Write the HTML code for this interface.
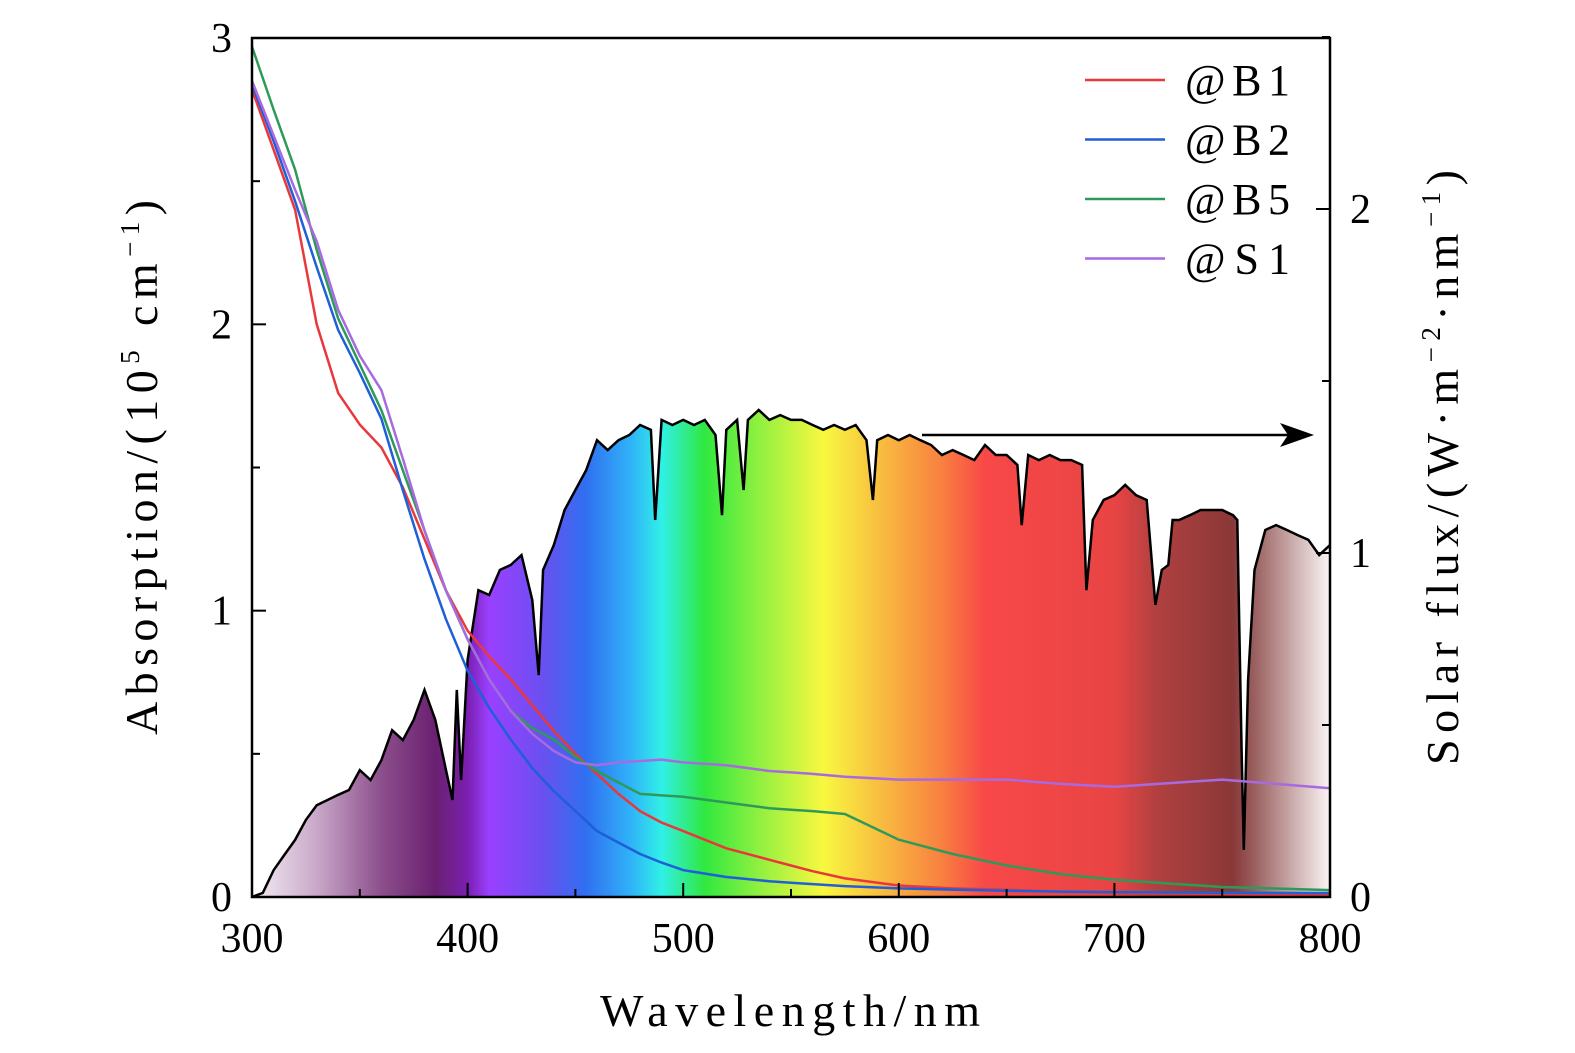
<!DOCTYPE html>
<html><head><meta charset="utf-8"><style>
html,body{margin:0;padding:0;background:#fff}
svg{display:block;font-family:"Liberation Serif",serif}
</style></head><body>
<svg id="chart" width="1575" height="1053" viewBox="0 0 1575 1053" xmlns="http://www.w3.org/2000/svg">
<defs>
<linearGradient id="spec" x1="252" x2="1330" y1="0" y2="0" gradientUnits="userSpaceOnUse">
<stop offset="0" stop-color="#f4eef4"/>
<stop offset="0.06" stop-color="#c9a8c9"/>
<stop offset="0.12" stop-color="#8c4f8c"/>
<stop offset="0.17" stop-color="#6a2070"/>
<stop offset="0.2" stop-color="#7a1fb0"/>
<stop offset="0.22" stop-color="#9a40ff"/>
<stop offset="0.27" stop-color="#6a50f0"/>
<stop offset="0.31" stop-color="#3070f0"/>
<stop offset="0.35" stop-color="#30b0f8"/>
<stop offset="0.38" stop-color="#30f0e8"/>
<stop offset="0.42" stop-color="#30e840"/>
<stop offset="0.47" stop-color="#90f040"/>
<stop offset="0.53" stop-color="#f8f840"/>
<stop offset="0.58" stop-color="#f8c040"/>
<stop offset="0.64" stop-color="#f88040"/>
<stop offset="0.68" stop-color="#f84848"/>
<stop offset="0.8" stop-color="#e84444"/>
<stop offset="0.84" stop-color="#b04040"/>
<stop offset="0.91" stop-color="#8a3838"/>
<stop offset="0.93" stop-color="#9a6060"/>
<stop offset="1" stop-color="#fbf5f5"/>
</linearGradient>
<clipPath id="plotclip"><rect x="252" y="38" width="1078" height="859"/></clipPath>
</defs>
<g id="plot" clip-path="url(#plotclip)"></g>
<g id="axes"></g>
<line x1="922" y1="435" x2="1290" y2="435" stroke="#000" stroke-width="2.5"/>
<polygon points="1314,435 1280,423 1288,435 1280,447" fill="#000"/>
<g id="legend"></g>
<text x="600" y="1026" font-size="46" textLength="380" lengthAdjust="spacing">Wavelength/nm</text>
<text transform="translate(157,735) rotate(-90)" font-size="46" textLength="535" lengthAdjust="spacing">Absorption/(10<tspan font-size="27" dy="-18">5</tspan><tspan dy="18"> cm</tspan><tspan font-size="27" dy="-18">−1</tspan><tspan dy="18">)</tspan></text>
<text transform="translate(1458,765) rotate(-90)" font-size="46" textLength="595" lengthAdjust="spacing">Solar flux/(W·m<tspan font-size="27" dy="-18">−2</tspan><tspan dy="18">·nm</tspan><tspan font-size="27" dy="-18">−1</tspan><tspan dy="18">)</tspan></text>
</svg>
<script>
const fluxWl=[300,305,310,315,320,325,330,335,340,345,350,355,360,365,370,375,380,385,390,393,395,397,400,405,410,415,420,425,430,433,435,440,445,450,455,460,465,470,475,480,485,487,490,495,500,505,510,515,518,520,525,528,530,535,540,545,550,555,560,565,570,575,580,585,588,590,595,600,605,610,615,620,625,630,635,640,645,650,655,657,660,665,670,675,680,685,687,690,695,700,705,710,715,719,722,725,727,730,735,740,745,750,755,757,759,760,762,765,770,775,780,785,790,795,800];
const fluxVal=[0,0.012,0.078,0.122,0.166,0.224,0.267,0.282,0.297,0.311,0.369,0.340,0.398,0.485,0.456,0.515,0.602,0.515,0.369,0.282,0.602,0.340,0.689,0.892,0.878,0.951,0.965,0.994,0.863,0.645,0.951,1.023,1.125,1.183,1.241,1.328,1.299,1.328,1.343,1.372,1.358,1.096,1.387,1.372,1.387,1.372,1.387,1.343,1.110,1.358,1.387,1.183,1.387,1.416,1.387,1.401,1.387,1.387,1.372,1.358,1.372,1.358,1.372,1.328,1.154,1.328,1.343,1.328,1.343,1.328,1.314,1.285,1.299,1.285,1.270,1.314,1.285,1.285,1.256,1.081,1.285,1.270,1.285,1.270,1.270,1.256,0.892,1.096,1.154,1.168,1.198,1.168,1.154,0.849,0.951,0.965,1.096,1.096,1.110,1.125,1.125,1.125,1.110,1.096,0.427,0.137,0.631,0.951,1.067,1.081,1.067,1.052,1.038,0.994,1.023];
const absWl=[300,310,320,330,340,350,360,370,380,390,400,410,420,430,440,450,460,470,480,490,500,520,540,550,560,575,600,625,650,675,700,750,800];
const absB1=[2.82,2.61,2.40,2.00,1.76,1.65,1.57,1.43,1.25,1.07,0.93,0.84,0.76,0.67,0.58,0.50,0.43,0.36,0.30,0.26,0.23,0.17,0.13,0.11,0.09,0.065,0.04,0.03,0.025,0.018,0.014,0.01,0.007];
const absB2=[2.84,2.64,2.43,2.20,1.98,1.83,1.67,1.42,1.18,0.97,0.79,0.66,0.55,0.45,0.37,0.30,0.23,0.19,0.15,0.12,0.094,0.07,0.055,0.05,0.045,0.038,0.03,0.026,0.022,0.019,0.017,0.015,0.014];
const absB5=[2.97,2.75,2.54,2.26,2.02,1.86,1.70,1.49,1.28,1.07,0.90,0.76,0.65,0.59,0.55,0.49,0.44,0.40,0.36,0.355,0.35,0.33,0.31,0.305,0.30,0.29,0.20,0.15,0.11,0.08,0.06,0.035,0.024];
const absS1=[2.85,2.66,2.47,2.29,2.05,1.89,1.77,1.53,1.28,1.07,0.90,0.76,0.65,0.57,0.51,0.47,0.46,0.47,0.475,0.48,0.47,0.46,0.44,0.435,0.43,0.42,0.41,0.41,0.41,0.395,0.385,0.41,0.38];
const seriesNames=["@B1","@B2","@B5","@S1"];
const seriesColors=["#e8383c","#1f5fd8","#2e9a5a","#a86ae0"];
const xTicks=[300,400,500,600,700,800];
const leftTicks=[0,1,2,3];
const rightTicks=[0,1,2];

const NS="http://www.w3.org/2000/svg";
const X0=252,X1=1330,YB=897,YT=38;
const sx=w=>X0+(w-300)/500*(X1-X0);
const syL=v=>YB-v/3*(YB-YT);
const syR=v=>YB-v*344;
function mk(tag,attrs,parent){const e=document.createElementNS(NS,tag);for(const k in attrs)e.setAttribute(k,attrs[k]);parent.appendChild(e);return e;}
const plot=document.getElementById('plot'),axes=document.getElementById('axes'),legend=document.getElementById('legend');

let d=`M${sx(fluxWl[0])},${YB}`;
fluxWl.forEach((w,i)=>d+=` L${sx(w).toFixed(1)},${syR(fluxVal[i]).toFixed(1)}`);
const area=mk('path',{d:d+` L${sx(800)},${YB} Z`,fill:'url(#spec)'},plot);


let dl='';
fluxWl.forEach((w,i)=>dl+=(i?' L':'M')+sx(w).toFixed(1)+','+syR(fluxVal[i]).toFixed(1));
const fl=mk('path',{d:dl,fill:'none',stroke:'#000','stroke-width':2.5},plot);



[absB1,absB2,absB5,absS1].forEach((arr,s)=>{
  let p='';
  arr.forEach((v,i)=>p+=(i?' L':'M')+sx(absWl[i]).toFixed(1)+','+syL(v).toFixed(1));
  const l=mk('path',{d:p,fill:'none',stroke:seriesColors[s],'stroke-width':2.5,'stroke-linejoin':'round'},plot);
  
  
  const y=80+s*59.5;
  const ll=mk('line',{x1:1085,x2:1165,y1:y,y2:y,stroke:seriesColors[s],'stroke-width':2.5},legend);
  
  
  const t=mk('text',{x:1185,y:y+15,'font-size':44,textLength:105,lengthAdjust:'spacing'},legend);t.textContent=seriesNames[s];
  
  
});

const frame=mk('rect',{x:X0,y:YT,width:X1-X0,height:YB-YT,fill:'none',stroke:'#000','stroke-width':2.5},axes);


xTicks.forEach((w,i)=>{
  mk('line',{x1:sx(w),x2:sx(w),y1:YB,y2:YB-14,stroke:'#000','stroke-width':2},axes);
  if(i<xTicks.length-1){const m=w+50;mk('line',{x1:sx(m),x2:sx(m),y1:YB,y2:YB-8,stroke:'#000','stroke-width':2},axes);}
  const t=mk('text',{x:sx(w),y:952,'font-size':42,'text-anchor':'middle'},axes);t.textContent=w;
  
  
});
leftTicks.forEach((v,i)=>{
  mk('line',{x1:X0,x2:X0+14,y1:syL(v),y2:syL(v),stroke:'#000','stroke-width':2},axes);
  if(i<leftTicks.length-1)mk('line',{x1:X0,x2:X0+8,y1:syL(v+0.5),y2:syL(v+0.5),stroke:'#000','stroke-width':2},axes);
  const t=mk('text',{x:232,y:syL(v)+14,'font-size':42,'text-anchor':'end'},axes);t.textContent=v;
  
  
});
rightTicks.forEach(v=>{
  mk('line',{x1:X1,x2:X1-14,y1:syR(v),y2:syR(v),stroke:'#000','stroke-width':2},axes);
  mk('line',{x1:X1,x2:X1-8,y1:syR(v+0.5),y2:syR(v+0.5),stroke:'#000','stroke-width':2},axes);
  const t=mk('text',{x:1350,y:syR(v)+14,'font-size':42},axes);t.textContent=v;
  
  
});
</script>
</body></html>
